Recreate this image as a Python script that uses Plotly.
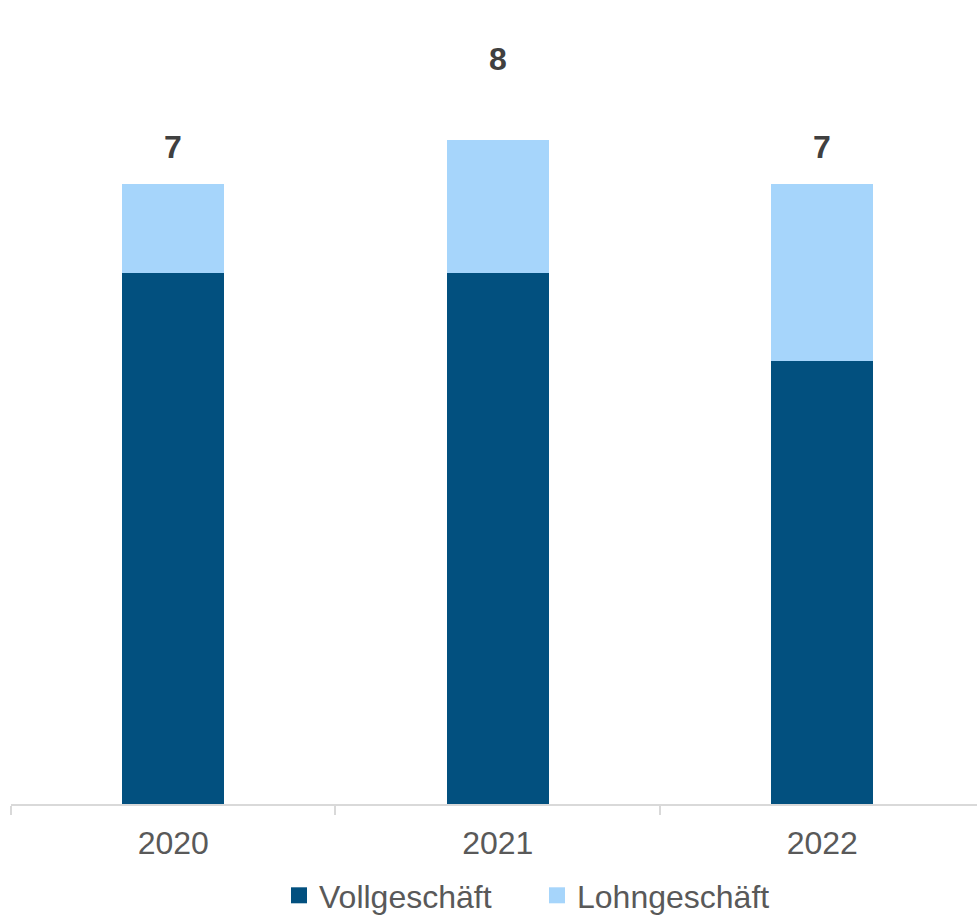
import plotly.graph_objects as go

years = ["2020", "2021", "2022"]
vollgeschaeft = [6.0, 6.0, 5.0]
lohngeschaeft = [1.0, 1.5, 2.0]
totals = [v + l for v, l in zip(vollgeschaeft, lohngeschaeft)]
total_labels = [f"{round(t + 1e-9):.0f}" for t in totals]

DARK = "#02507f"
LIGHT = "#a6d5fb"
FONT = "Liberation Sans, Arial, sans-serif"

fig = go.Figure()
fig.add_trace(go.Bar(x=years, y=vollgeschaeft, name="Vollgeschäft",
                     marker=dict(color=DARK, line=dict(width=0)), showlegend=False))
fig.add_trace(go.Bar(x=years, y=lohngeschaeft, name="Lohngeschäft",
                     marker=dict(color=LIGHT, line=dict(width=0)), showlegend=False))
# legend entries
fig.add_trace(go.Scatter(x=[None], y=[None], mode="markers", name="Vollgeschäft",
                         marker=dict(symbol="square", size=16, color=DARK)))
fig.add_trace(go.Scatter(x=[None], y=[None], mode="markers", name="Lohngeschäft",
                         marker=dict(symbol="square", size=16, color=LIGHT)))

for i, lab in enumerate(total_labels):
    fig.add_annotation(x=i, y=float(lab), xref="x", yref="y", text=f"<b>{lab}</b>",
                       showarrow=False, yanchor="middle", yshift=37,
                       font=dict(family=FONT, size=32, color="#404040"))

fig.update_layout(
    width=977, height=925,
    margin=dict(l=11, r=0, t=7, b=121),
    barmode="stack", bargap=0.686,
    plot_bgcolor="white", paper_bgcolor="white",
    font=dict(family=FONT, size=32, color="#595959"),
    xaxis=dict(type="category", range=[-0.5, 2.477], showline=True, linecolor="#d9d9d9",
               linewidth=1.5, ticks="outside", tickson="boundaries", ticklen=9,
               tickcolor="#d9d9d9", tickwidth=1.5, showgrid=False, ticklabelstandoff=10,
               tickfont=dict(family=FONT, size=32, color="#595959")),
    yaxis=dict(range=[0, 9], visible=False, showgrid=False),
    legend=dict(orientation="h", x=(279 - 11) / 966, xanchor="left",
                y=-(923 - 804) / 797, yanchor="bottom",
                font=dict(family=FONT, size=32, color="#595959"),
                itemsizing="trace", traceorder="normal", itemwidth=30, entrywidth=213),
)

fig.write_html("out.html", config={"displayModeBar": False},
               post_script="document.body.style.margin='0';document.body.style.overflow='hidden';")
